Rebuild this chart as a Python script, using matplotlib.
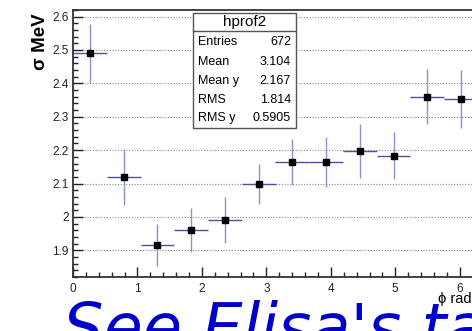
import numpy as np
import matplotlib.pyplot as plt
from matplotlib.ticker import MultipleLocator, FuncFormatter

# profile bins over phi (12 bins from 0 to 2*pi)
phi_centers = [0.262, 0.785, 1.309, 1.833, 2.356, 2.880, 3.403, 3.927, 4.451, 4.974, 5.498, 6.021]
phi_halfwidth = [0.262] * 12
sigma = [2.49, 2.12, 1.917, 1.962, 1.99, 2.10, 2.165, 2.165, 2.197, 2.184, 2.36, 2.352]
sigma_err = [0.088, 0.083, 0.063, 0.066, 0.069, 0.06, 0.068, 0.075, 0.08, 0.07, 0.083, 0.087]

stat_names = ["Entries", "Mean", "Mean y", "RMS", "RMS y"]
stat_values = ["672", "3.104", "2.167", "1.814", "0.5905"]

plt.rcParams['font.family'] = ['Liberation Sans', 'DejaVu Sans']

fig = plt.figure(figsize=(4.72, 3.31), dpi=100)
ax = fig.add_axes([0.1547, 0.163, 0.858, 0.807])

ax.errorbar(phi_centers, sigma, xerr=phi_halfwidth, fmt='none', ecolor='#4a5398', elinewidth=1.0, capsize=0)
ax.errorbar(phi_centers, sigma, yerr=sigma_err, fmt='none', ecolor='#8a92c8', elinewidth=1.0, capsize=0)
ax.plot(phi_centers, sigma, 's', color='black', markersize=4.5, zorder=5)

ax.set_xlim(0, 2 * np.pi)
ax.set_ylim(1.82, 2.62)

ax.xaxis.set_major_locator(MultipleLocator(1))
ax.xaxis.set_minor_locator(MultipleLocator(0.2))
ax.yaxis.set_major_locator(MultipleLocator(0.1))
ax.yaxis.set_minor_locator(MultipleLocator(0.02))
ax.yaxis.set_major_formatter(FuncFormatter(lambda v, p: f"{v:.1f}".rstrip('0').rstrip('.')))

ax.tick_params(which='both', direction='in', top=False, right=False, labelsize=8.5, colors='#222222')
ax.tick_params(which='major', length=7, width=1)
ax.tick_params(which='minor', length=3.5, width=1)
ax.tick_params(axis='x', pad=4)
ax.tick_params(axis='y', pad=3)

for s in ax.spines.values():
    s.set_linewidth(1.3)
    s.set_color('#333333')

ax.yaxis.grid(True, which='major', linestyle=(0, (1, 1.5)), color='#888888', linewidth=0.8)
ax.set_axisbelow(True)

fig.text(0.086, 0.96, "σ MeV", rotation=90, ha='center', va='top', fontsize=13.5, fontweight='bold')
fig.text(1.0, 1 - 292 / 331, "ϕ rad", ha='right', va='top', fontsize=10.5)

# stats box
bx0, bx1 = 193, 296
by0, by1 = 13, 128
W, H = 472, 331
fig.patches.append(plt.Rectangle((bx0 / W, 1 - by1 / H), (bx1 - bx0) / W, (by1 - by0) / H,
                                 transform=fig.transFigure, facecolor='white', edgecolor='#555555',
                                 linewidth=1.0, zorder=10))
fig.add_artist(plt.Line2D([bx0 / W, bx1 / W], [1 - 31 / H, 1 - 31 / H], transform=fig.transFigure,
                          color='#555555', linewidth=1.0, zorder=11))
fig.text((bx0 + bx1) / 2 / W, 1 - 22 / H, "hprof2", ha='center', va='center', fontsize=11, zorder=12)
row_y = [42, 62, 81, 100, 118]
for name, val, ry in zip(stat_names, stat_values, row_y):
    fig.text(198 / W, 1 - ry / H, name, ha='left', va='center', fontsize=9, zorder=12)
    fig.text(291 / W, 1 - ry / H, val, ha='right', va='center', fontsize=9, zorder=12)

fig.text(63 / W, -0.055, "See Elisa's talk", ha='left', va='baseline', fontsize=46,
         style='italic', color='#0000cc', family=['DejaVu Sans'])

fig.savefig("out.png", dpi=100)
